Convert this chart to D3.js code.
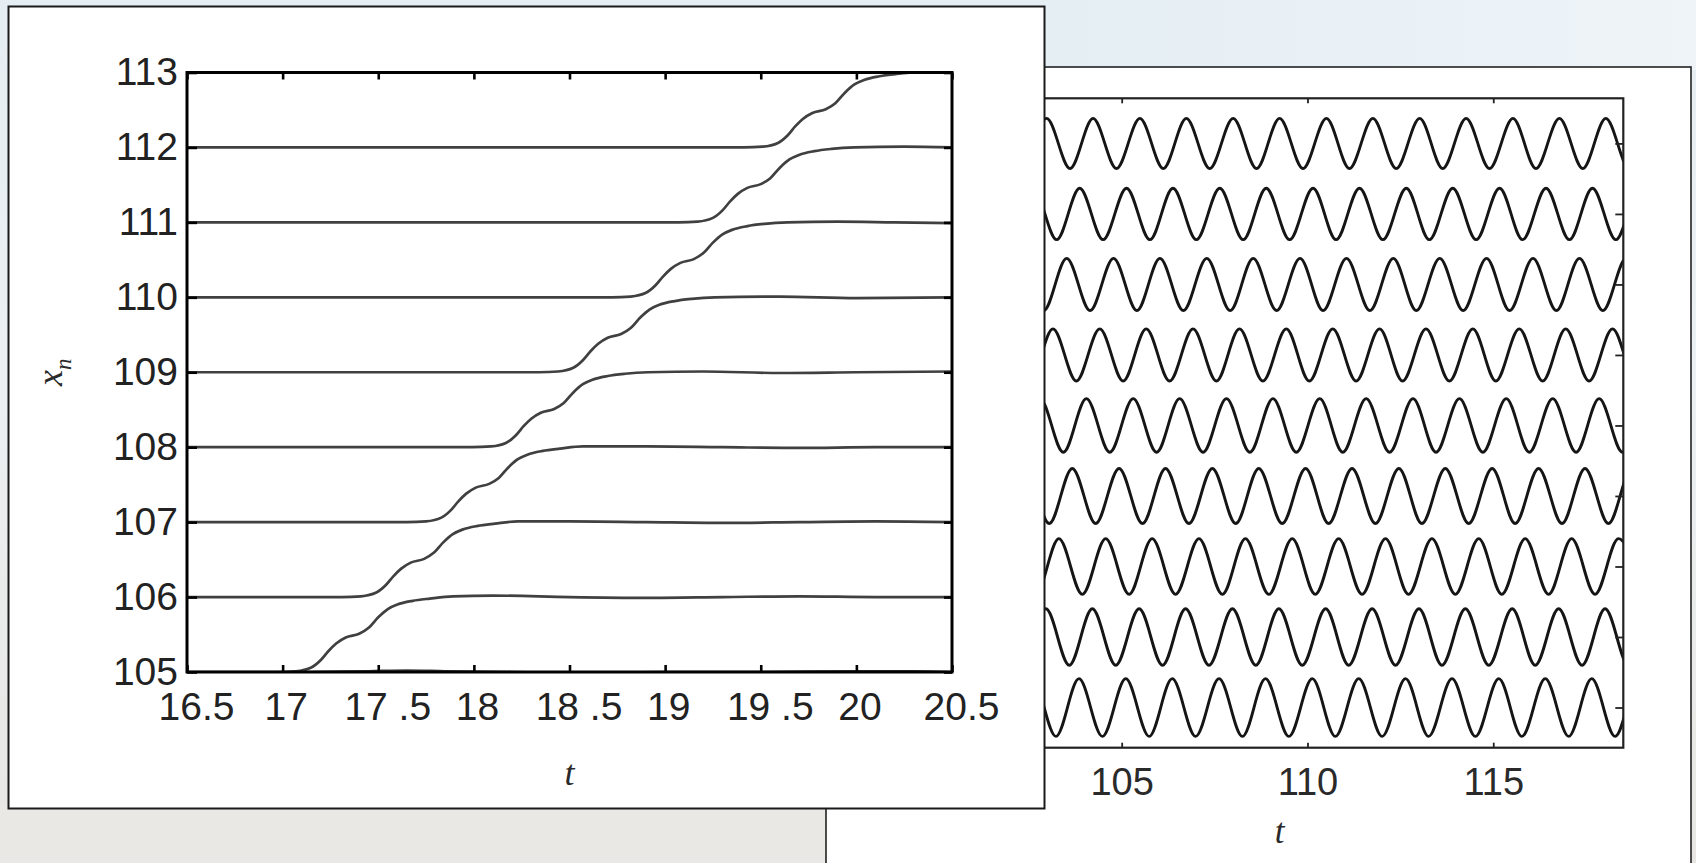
<!DOCTYPE html>
<html><head><meta charset="utf-8">
<script src="https://cdn.jsdelivr.net/npm/d3@7"></script>
<style>
html,body{margin:0;padding:0;overflow:hidden;background:#e9eef1;}
svg{display:block;}
</style></head><body>
<svg id="fig" width="1696" height="863"></svg>
<script>
// ================= LEFT CHART DATA =================
const leftXTicks = [16.5, 17, 17.5, 18, 18.5, 19, 19.5, 20, 20.5];
const leftXTickLabels = ["16.5", "17", "17 .5", "18", "18 .5", "19", "19 .5", "20", "20.5"];
const leftYTicks = [105, 106, 107, 108, 109, 110, 111, 112, 113];
const leftYTickLabels = ["105", "106", "107", "108", "109", "110", "111", "112", "113"];
const leftYLabel = "x", leftYLabelSub = "n";
const leftXLabel = "t";

// trajectories x_n(t), [t, x]
const trajZ = [[16.5,104.40],[16.6,104.62],[16.7,104.84],[16.78,104.93],[16.88,104.97],[17.0,104.99],[17.15,105.0],[17.45,105.01],[17.65,105.02],[17.85,105.01],[18.2,105.0],[18.6,104.99],[19.0,105.0],[19.5,105.0],[20.0,105.01],[20.3,105.01],[20.5,105.0]];
const trajA = [[16.5,105],[16.97,105],[17.07,105.01],[17.15,105.06],[17.20,105.16],[17.24,105.28],[17.28,105.38],[17.33,105.46],[17.40,105.51],[17.45,105.59],[17.50,105.73],[17.55,105.84],[17.60,105.90],[17.68,105.95],[17.77,105.98],[17.89,106.01],[18.1,106.02],[18.5,106.0],[18.9,105.99],[19.3,106.0],[19.7,106.01],[20.1,106.0],[20.5,106.0]];
const trajB = [[16.5,106],[17.31,106],[17.41,106.01],[17.49,106.06],[17.54,106.16],[17.58,106.28],[17.62,106.38],[17.67,106.46],[17.74,106.51],[17.79,106.59],[17.84,106.73],[17.89,106.84],[17.94,106.90],[18.02,106.95],[18.11,106.98],[18.23,107.01],[18.5,107.01],[18.9,107.0],[19.3,106.99],[19.7,107.0],[20.1,107.01],[20.5,107.0]];
const trajC = [[16.5,107],[17.65,107],[17.75,107.01],[17.83,107.06],[17.88,107.16],[17.92,107.28],[17.96,107.38],[18.01,107.46],[18.08,107.51],[18.13,107.59],[18.18,107.73],[18.23,107.84],[18.28,107.90],[18.36,107.95],[18.45,107.98],[18.57,108.01],[18.9,108.01],[19.3,108.0],[19.7,107.99],[20.1,108.0],[20.5,108.0]];
const trajD = [[16.5,108],[17.99,108],[18.09,108.01],[18.17,108.06],[18.22,108.16],[18.26,108.28],[18.30,108.38],[18.35,108.46],[18.42,108.51],[18.47,108.59],[18.52,108.73],[18.57,108.84],[18.62,108.90],[18.70,108.95],[18.79,108.98],[18.91,109.0],[19.2,109.01],[19.6,108.99],[20.0,109.0],[20.5,109.01]];
const trajE = [[16.5,109],[18.34,109],[18.44,109.01],[18.52,109.06],[18.57,109.16],[18.61,109.28],[18.65,109.38],[18.70,109.46],[18.77,109.51],[18.82,109.59],[18.87,109.73],[18.92,109.84],[18.97,109.90],[19.05,109.95],[19.14,109.98],[19.26,110.0],[19.6,110.01],[20.0,109.99],[20.5,110.0]];
const trajF = [[16.5,110],[18.72,110],[18.82,110.01],[18.90,110.06],[18.95,110.16],[18.99,110.28],[19.03,110.38],[19.08,110.46],[19.15,110.51],[19.20,110.59],[19.25,110.73],[19.30,110.84],[19.35,110.90],[19.43,110.95],[19.52,110.98],[19.64,111.0],[19.9,111.01],[20.2,111.0],[20.5,110.99]];
const trajG = [[16.5,111],[19.07,111],[19.17,111.01],[19.25,111.06],[19.30,111.16],[19.34,111.28],[19.38,111.38],[19.43,111.46],[19.50,111.51],[19.55,111.59],[19.60,111.73],[19.65,111.84],[19.70,111.90],[19.78,111.95],[19.87,111.98],[19.99,112.0],[20.25,112.01],[20.5,112.0]];
const trajH = [[16.5,112],[19.41,112],[19.51,112.01],[19.59,112.06],[19.64,112.16],[19.68,112.28],[19.72,112.38],[19.77,112.46],[19.84,112.51],[19.89,112.59],[19.94,112.73],[19.99,112.84],[20.04,112.90],[20.12,112.95],[20.21,112.98],[20.33,113.0],[20.5,113.0]];

// ================= RIGHT CHART DATA =================
const rightXTicks = [105, 110, 115];
const rightXTickLabels = ["105", "110", "115"];
const rightXLabel = "t";
const rightLevels = [1, 2, 3, 4, 5, 6, 7, 8, 9];
const rightAmp = [0.41, 0.40, 0.395, 0.39, 0.38, 0.37, 0.37, 0.365, 0.355];
// times of maxima / minima for each row (row 1 = bottom)
const peaks1 = [102.60,103.85,105.11,106.36,107.62,108.87,110.13,111.38,112.64,113.89,115.15,116.40,117.65,118.91];
const troughs1 = [101.97,103.23,104.48,105.74,106.99,108.25,109.50,110.75,112.01,113.26,114.52,115.77,117.03,118.28,119.54];
const peaks2 = [102.96,104.21,105.47,106.72,107.98,109.23,110.49,111.74,113.00,114.25,115.51,116.76,118.01,119.27];
const troughs2 = [102.33,103.59,104.84,106.10,107.35,108.61,109.86,111.11,112.37,113.62,114.88,116.13,117.39,118.64];
const peaks3 = [102.06,103.31,104.57,105.82,107.08,108.33,109.59,110.84,112.10,113.35,114.61,115.86,117.11,118.37];
const troughs3 = [101.43,102.69,103.94,105.20,106.45,107.71,108.96,110.21,111.47,112.72,113.98,115.23,116.49,117.74,119.00];
const peaks4 = [102.42,103.67,104.93,106.18,107.44,108.69,109.95,111.20,112.46,113.71,114.97,116.22,117.47,118.73];
const troughs4 = [101.79,103.05,104.30,105.56,106.81,108.07,109.32,110.57,111.83,113.08,114.34,115.59,116.85,118.10,119.36];
const peaks5 = [102.80,104.05,105.31,106.56,107.82,109.07,110.33,111.58,112.84,114.09,115.35,116.60,117.85,119.11];
const troughs5 = [102.17,103.43,104.68,105.94,107.19,108.45,109.70,110.95,112.21,113.46,114.72,115.97,117.23,118.48];
const peaks6 = [101.90,103.15,104.41,105.66,106.92,108.17,109.43,110.68,111.94,113.19,114.45,115.70,116.95,118.21,119.46];
const troughs6 = [102.53,103.78,105.04,106.29,107.55,108.80,110.05,111.31,112.56,113.82,115.07,116.33,117.58,118.84];
const peaks7 = [102.27,103.52,104.78,106.03,107.29,108.54,109.80,111.05,112.31,113.56,114.82,116.07,117.32,118.58];
const troughs7 = [101.64,102.90,104.15,105.41,106.66,107.92,109.17,110.42,111.68,112.93,114.19,115.44,116.70,117.95,119.21];
const peaks8 = [102.62,103.87,105.13,106.38,107.64,108.89,110.15,111.40,112.66,113.91,115.17,116.42,117.67,118.93];
const troughs8 = [101.99,103.25,104.50,105.76,107.01,108.27,109.52,110.77,112.03,113.28,114.54,115.79,117.05,118.30,119.56];
const peaks9 = [102.98,104.23,105.49,106.74,108.00,109.25,110.51,111.76,113.02,114.27,115.53,116.78,118.03,119.29];
const troughs9 = [102.35,103.61,104.86,106.12,107.37,108.63,109.88,111.13,112.39,113.64,114.90,116.15,117.41,118.66];

// ================= DRAWING =================
const svg = d3.select("#fig");
const W = 1696, H = 863;
const defs = svg.append("defs");

// background (blurred photo behind the figures)
const bg = defs.append("linearGradient").attr("id","bgv").attr("x1",0).attr("y1",0).attr("x2",0).attr("y2",1);
bg.append("stop").attr("offset","0").attr("stop-color","#e5eef3");
bg.append("stop").attr("offset","0.45").attr("stop-color","#ecf0f2");
bg.append("stop").attr("offset","1").attr("stop-color","#e7e6e3");
const bgh = defs.append("linearGradient").attr("id","bgh").attr("x1",0).attr("y1",0).attr("x2",1).attr("y2",0);
bgh.append("stop").attr("offset","0").attr("stop-color","#e4eef3");
bgh.append("stop").attr("offset","0.5").attr("stop-color","#eaf1f6");
bgh.append("stop").attr("offset","1").attr("stop-color","#eef4f8");
svg.append("rect").attr("x",0).attr("y",0).attr("width",W).attr("height",H).attr("fill","url(#bgv)");
svg.append("rect").attr("x",1040).attr("y",0).attr("width",656).attr("height",70).attr("fill","url(#bgh)");
svg.append("rect").attr("x",0).attr("y",805).attr("width",830).attr("height",58).attr("fill","#e9e8e5");

// ---------- RIGHT PANEL (behind) ----------
const xR = d3.scaleLinear().domain([100, 118.5]).range([935.9, 1623.3]);
const yR = d3.scaleLinear().domain([0.43, 9.64]).range([747.7, 98.3]);

svg.append("rect").attr("x",826).attr("y",67).attr("width",865).attr("height",830)
  .attr("fill","#fff").attr("stroke","#222").attr("stroke-width",1.6);

defs.append("clipPath").attr("id","clipR").append("rect")
  .attr("x",xR.range()[0]).attr("y",yR.range()[1])
  .attr("width",xR.range()[1]-xR.range()[0]).attr("height",yR.range()[0]-yR.range()[1]);

const rowPeaks = [peaks1,peaks2,peaks3,peaks4,peaks5,peaks6,peaks7,peaks8,peaks9];
const rowTroughs = [troughs1,troughs2,troughs3,troughs4,troughs5,troughs6,troughs7,troughs8,troughs9];
const lineR = d3.line().x(d=>xR(d[0])).y(d=>yR(d[1])).curve(d3.curveMonotoneX);
const gR = svg.append("g").attr("clip-path","url(#clipR)");
rightLevels.forEach((lv,i)=>{
  const A = rightAmp[i];
  const pts = rowPeaks[i].map(t=>[t, lv + A]).concat(rowTroughs[i].map(t=>[t, lv - A]))
    .sort((a,b)=>a[0]-b[0]);
  gR.append("path").attr("d", lineR(pts)).attr("fill","none")
    .attr("stroke","#151515").attr("stroke-width",2.9);
});

// right axes
const axRB = svg.append("g").attr("transform",`translate(0,${yR.range()[0]})`)
  .call(d3.axisBottom(xR).tickValues(rightXTicks).tickFormat((d,i)=>rightXTickLabels[i])
    .tickSizeInner(-5).tickSizeOuter(0).tickPadding(20));
const axRT = svg.append("g").attr("transform",`translate(0,${yR.range()[1]})`)
  .call(d3.axisTop(xR).tickValues(rightXTicks).tickFormat("").tickSizeInner(-5).tickSizeOuter(0));
const axRR = svg.append("g").attr("transform",`translate(${xR.range()[1]},0)`)
  .call(d3.axisRight(yR).tickValues(rightLevels).tickFormat("").tickSizeInner(-8).tickSizeOuter(0));
[axRB,axRT,axRR].forEach(g=>{
  g.select(".domain").remove();
  g.selectAll(".tick line").attr("stroke","#222").attr("stroke-width",1.8);
});
axRB.selectAll(".tick text").attr("font-family","'Liberation Sans', Arial, sans-serif")
  .attr("font-size",38).attr("fill","#2a2a2a");
svg.append("rect").attr("x",xR.range()[0]).attr("y",yR.range()[1])
  .attr("width",xR.range()[1]-xR.range()[0]).attr("height",yR.range()[0]-yR.range()[1])
  .attr("fill","none").attr("stroke","#222").attr("stroke-width",2.2);
svg.append("text").attr("x",(xR.range()[0]+xR.range()[1])/2).attr("y",843)
  .attr("text-anchor","middle").attr("font-family","'Liberation Serif', 'Times New Roman', serif")
  .attr("font-style","italic").attr("font-size",35).attr("fill","#2a2a2a").text(rightXLabel);

// ---------- LEFT PANEL (front) ----------
svg.append("rect").attr("x",8.5).attr("y",6.5).attr("width",1036).attr("height",802)
  .attr("fill","#fff").attr("stroke","#1a1a1a").attr("stroke-width",2);

const xL = d3.scaleLinear().domain([16.5, 20.5]).range([187, 952]);
const yL = d3.scaleLinear().domain([105, 113]).range([672, 72.5]);

defs.append("clipPath").attr("id","clipL").append("rect")
  .attr("x",xL.range()[0]).attr("y",yL.range()[1])
  .attr("width",xL.range()[1]-xL.range()[0]).attr("height",yL.range()[0]-yL.range()[1]);

const lineL = d3.line().x(d=>xL(d[0])).y(d=>yL(d[1])).curve(d3.curveMonotoneX);
const gL = svg.append("g").attr("clip-path","url(#clipL)");
[trajZ,trajA,trajB,trajC,trajD,trajE,trajF,trajG,trajH].forEach(tr=>{
  gL.append("path").attr("d",lineL(tr)).attr("fill","none")
    .attr("stroke","#404040").attr("stroke-width",2.7);
});

const axLB = svg.append("g").attr("transform",`translate(0,${yL.range()[0]})`)
  .call(d3.axisBottom(xL).tickValues(leftXTicks).tickFormat((d,i)=>leftXTickLabels[i])
    .tickSizeInner(-7).tickSizeOuter(0).tickPadding(20));
const axLT = svg.append("g").attr("transform",`translate(0,${yL.range()[1]})`)
  .call(d3.axisTop(xL).tickValues(leftXTicks).tickFormat("").tickSizeInner(-7).tickSizeOuter(0));
const axLL = svg.append("g").attr("transform",`translate(${xL.range()[0]},0)`)
  .call(d3.axisLeft(yL).tickValues(leftYTicks).tickFormat((d,i)=>leftYTickLabels[i])
    .tickSizeInner(-10).tickSizeOuter(0).tickPadding(9));
const axLR = svg.append("g").attr("transform",`translate(${xL.range()[1]},0)`)
  .call(d3.axisRight(yL).tickValues(leftYTicks).tickFormat("").tickSizeInner(-8).tickSizeOuter(0));
[axLB,axLT,axLL,axLR].forEach(g=>{
  g.select(".domain").remove();
  g.selectAll(".tick line").attr("stroke","#000").attr("stroke-width",2.6);
});
[axLB,axLL].forEach(g=>g.selectAll(".tick text")
  .attr("font-family","'Liberation Sans', Arial, sans-serif").attr("font-size",39).attr("fill","#222"));
axLB.selectAll(".tick text").attr("dx",d=>(d%1)?9:3);

svg.append("rect").attr("x",xL.range()[0]).attr("y",yL.range()[1])
  .attr("width",xL.range()[1]-xL.range()[0]).attr("height",yL.range()[0]-yL.range()[1])
  .attr("fill","none").attr("stroke","#000").attr("stroke-width",3);

svg.append("text").attr("x",(xL.range()[0]+xL.range()[1])/2).attr("y",785)
  .attr("text-anchor","middle").attr("font-family","'Liberation Serif', 'Times New Roman', serif")
  .attr("font-style","italic").attr("font-size",36).attr("fill","#2a2a2a").text(leftXLabel);

const yl = svg.append("text").attr("transform",`translate(62,${(yL.range()[0]+yL.range()[1])/2}) rotate(-90)`)
  .attr("text-anchor","middle").attr("font-family","'Liberation Serif', 'Times New Roman', serif")
  .attr("font-style","italic").attr("font-size",36).attr("fill","#2a2a2a");
yl.append("tspan").text(leftYLabel);
yl.append("tspan").attr("font-size",23).attr("dy",9).text(leftYLabelSub);
</script>
</body></html>
